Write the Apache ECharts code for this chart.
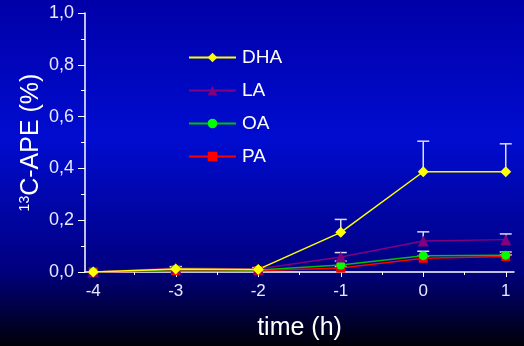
<!DOCTYPE html>
<html>
<head>
<meta charset="utf-8">
<script src="https://cdn.jsdelivr.net/npm/echarts@6/dist/echarts.min.js"></script>
<style>
  html, body { margin: 0; padding: 0; }
  #echarts { width: 524px; height: 346px; }
</style>
</head>
<body>
<div id="echarts"></div>
<script>
// time points (h)
const hours = [-4, -3, -2, -1, 0, 1]
const xLabels = [-4, -3, -2, -1, 0, 1]
const xMinorTicks = [-3.5, -2.5, -1.5, -0.5, 0.5]

// 13C-APE (%) per fatty acid, with upper error
const dha = [0, 0.012, 0.01, 0.153, 0.387, 0.387]
const dhaErr = [0, 0.008, 0.006, 0.05, 0.118, 0.108]
const la = [0, 0.015, 0.012, 0.058, 0.12, 0.125]
const laErr = [0, 0.006, 0.005, 0.017, 0.035, 0.022]
const oa = [0, 0.01, 0.008, 0.027, 0.063, 0.065]
const oaErr = [0, 0.005, 0.004, 0.015, 0.017, 0.012]
const pa = [0, 0.005, 0.005, 0.015, 0.053, 0.06]
const paErr = [0, 0.004, 0.003, 0.006, 0.008, 0.006]

const FONT = 'Liberation Sans'
const AXIS_COLOR = '#ffffff'
const LABEL_COLOR = '#e8e8ff'

const pairs = (ys) => hours.map((h, i) => [h, ys[i]])
const errPairs = (ys, es) => hours.map((h, i) => [h, ys[i], ys[i] + es[i]])

// 误差棒
const errorSeries = (name, ys, es) => ({
  name: name + ' err',
  type: 'custom',
  xAxisIndex: 0,
  yAxisIndex: 0,
  z: 1,
  silent: true,
  data: errPairs(ys, es),
  encode: { x: 0, y: [1, 2] },
  renderItem(params, api) {
    if (api.value(2) <= api.value(1)) return
    const base = api.coord([api.value(0), api.value(1)])
    const top = api.coord([api.value(0), api.value(2)])
    const style = { stroke: '#dcdcf4', lineWidth: 1.5 }
    return {
      type: 'group',
      children: [
        { type: 'line', shape: { x1: base[0], y1: base[1], x2: top[0], y2: top[1] }, style },
        { type: 'line', shape: { x1: top[0] - 6, y1: top[1], x2: top[0] + 6, y2: top[1] }, style },
      ],
    }
  },
})

const lineSeries = (name, ys, color, lineColor, symbol, size) => ({
  name,
  type: 'line',
  xAxisIndex: 0,
  yAxisIndex: 0,
  data: pairs(ys),
  symbol,
  symbolSize: size,
  showAllSymbol: true,
  z: 3,
  lineStyle: { color: lineColor, width: 1.5 },
  itemStyle: { color },
  emphasis: { disabled: true },
})

const option = {
  animation: false,
  backgroundColor: {
    type: 'linear', x: 0, y: 0, x2: 0, y2: 1,
    colorStops: [
      { offset: 0, color: '#0000a8' },
      { offset: 0.4, color: '#000cd0' },
      { offset: 0.78, color: '#000080' },
      { offset: 1, color: '#000008' },
    ],
  },
  grid: { left: 85, right: 10, top: 13, bottom: 73 },
  legend: {
    orient: 'vertical',
    left: 188,
    top: 48,
    padding: 0,
    itemWidth: 47,
    itemHeight: 12,
    itemGap: 14,
    textStyle: { color: '#ffffff', fontFamily: FONT, fontSize: 19, padding: [0, 0, 0, 1] },
    data: ['DHA', 'LA', 'OA', 'PA'],
  },
  xAxis: [
    {
      type: 'value',
      min: -4.1,
      max: 1.1,
      name: 'time (h)',
      nameLocation: 'middle',
      nameGap: 44,
      nameTextStyle: { color: '#ffffff', fontFamily: FONT, fontSize: 25 },
      axisLine: { onZero: false, lineStyle: { color: AXIS_COLOR, width: 1.5 } },
      axisTick: { customValues: xLabels, length: 5, lineStyle: { color: AXIS_COLOR } },
      axisLabel: {
        customValues: xLabels,
        color: LABEL_COLOR,
        fontFamily: FONT,
        fontSize: 17,
        margin: 11,
      },
      splitLine: { show: false },
    },
    {
      type: 'value',
      min: -4.1,
      max: 1.1,
      position: 'bottom',
      axisLine: { show: false, onZero: false },
      axisTick: { customValues: xMinorTicks, length: 3, lineStyle: { color: AXIS_COLOR } },
      axisLabel: { show: false },
      splitLine: { show: false },
    },
  ],
  yAxis: {
    type: 'value',
    min: 0,
    max: 1,
    interval: 0.2,
    name: '{sup|13}C-APE (%)',
    nameLocation: 'middle',
    nameGap: 41,
    nameMoveOverlap: false,
    nameTextStyle: {
      color: '#ffffff',
      fontFamily: FONT,
      fontSize: 25,
      rich: {
        sup: { fontSize: 14, fontFamily: FONT, color: '#ffffff', verticalAlign: 'top', padding: [0, 0, 12, 0] },
      },
    },
    axisLine: { show: true, onZero: false, lineStyle: { color: AXIS_COLOR, width: 1.5 } },
    axisTick: { show: true, length: 7, lineStyle: { color: AXIS_COLOR } },
    minorTick: { show: true, splitNumber: 2, length: 4, lineStyle: { color: AXIS_COLOR } },
    axisLabel: {
      color: LABEL_COLOR,
      fontFamily: FONT,
      fontSize: 18,
      margin: 11,
      formatter: (v) => v.toFixed(1).replace('.', ','),
    },
    splitLine: { show: false },
  },
  series: [
    errorSeries('PA', pa, paErr),
    errorSeries('OA', oa, oaErr),
    errorSeries('LA', la, laErr),
    errorSeries('DHA', dha, dhaErr),
    lineSeries('PA', pa, '#ff0000', '#ff0000', 'rect', 9),
    lineSeries('OA', oa, '#00ff00', '#00c000', 'circle', 9),
    lineSeries('LA', la, '#800080', '#800080', 'triangle', 11),
    lineSeries('DHA', dha, '#ffff00', '#ffff00', 'diamond', 11),
  ],
}

const chart = echarts.init(document.querySelector('#echarts'))
chart.setOption(option)
window.addEventListener('resize', () => chart.resize())
</script>
</body>
</html>
